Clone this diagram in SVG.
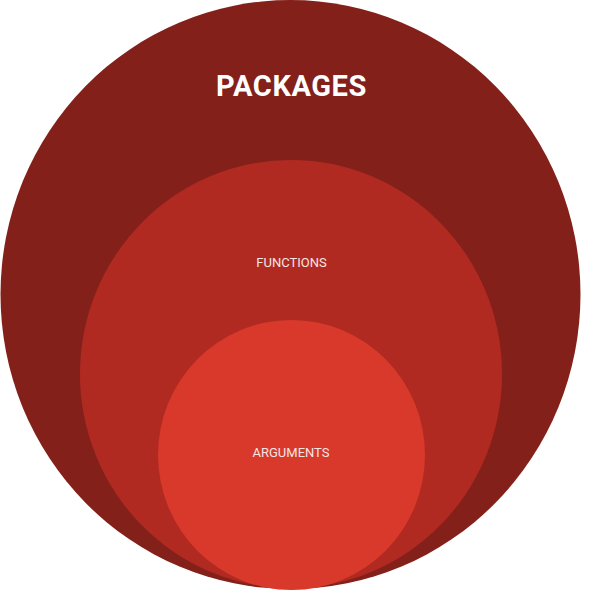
<svg xmlns="http://www.w3.org/2000/svg" width="591" height="600" viewBox="0 0 591 600">
  <style>
    .lbl { font-family: Roboto, "Liberation Sans", sans-serif; fill: #ffffff; text-anchor: middle; }
    .big { font-size: 29px; font-weight: bold; letter-spacing: 0.6px; }
    .small { font-size: 13px; fill: #f3e6e4; }
  </style>
  <rect width="591" height="600" fill="#ffffff"/>
  <g id="packages">
    <ellipse cx="290.5" cy="294.5" rx="290" ry="294.5" fill="#84201A"/>
    <text class="lbl big" x="291.5" y="96">PACKAGES</text>
  </g>
  <g id="functions">
    <ellipse cx="291" cy="374" rx="211" ry="214" fill="#B02A22"/>
    <text class="lbl small" x="291.5" y="267">FUNCTIONS</text>
  </g>
  <g id="arguments">
    <ellipse cx="291.5" cy="455" rx="133.5" ry="135" fill="#D9392B"/>
    <text class="lbl small" x="291" y="456.5">ARGUMENTS</text>
  </g>
  <g id="connectors"/>
</svg>
